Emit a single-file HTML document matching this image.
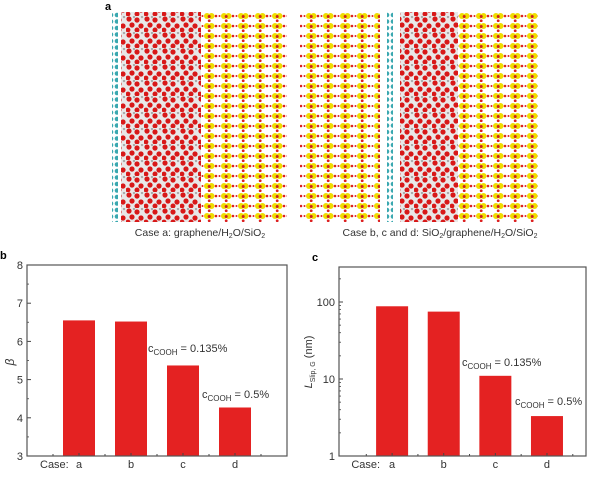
<!DOCTYPE html>
<html><head><meta charset="utf-8"><style>
body{margin:0;background:#fff;width:600px;height:472px;overflow:hidden;font-family:"Liberation Sans",sans-serif}
svg text{font-family:"Liberation Sans",sans-serif}
</style></head><body>
<svg width="600" height="472" viewBox="0 0 600 472" xmlns="http://www.w3.org/2000/svg">
<defs>
<pattern id="sio2" x="0" y="12" width="17" height="10" patternUnits="userSpaceOnUse">
<rect width="17" height="10" fill="#fff"/>
<circle cx="3" cy="4" r="3" fill="#f0dc00"/><circle cx="7.5" cy="4" r="3" fill="#f0dc00"/>
<circle cx="5.2" cy="4.5" r="1.5" fill="#cc2020"/><circle cx="5.2" cy="8.8" r="1.4" fill="#dd2020"/>
<circle cx="12" cy="4" r="1.3" fill="#dd2020"/><circle cx="15.5" cy="4" r="1" fill="#dd2020"/>
</pattern>
<pattern id="water" x="0" y="0" width="18" height="16" patternUnits="userSpaceOnUse">
<rect width="18" height="16" fill="#e8e8e8"/>
<circle cx="3" cy="3" r="2.6" fill="#d81818"/><circle cx="11" cy="4" r="2.6" fill="#d81818"/>
<circle cx="15" cy="10" r="2.6" fill="#d81818"/><circle cx="6" cy="9" r="2.6" fill="#d81818"/>
<circle cx="11" cy="14" r="2.5" fill="#d81818"/><circle cx="2" cy="14" r="2.4" fill="#d81818"/>
<circle cx="8" cy="1" r="1.2" fill="#aaa"/><circle cx="16" cy="1" r="1.2" fill="#aaa"/>
</pattern>
<pattern id="graph" x="0" y="12" width="6" height="6.5" patternUnits="userSpaceOnUse">
<rect width="6" height="6.5" fill="#fff"/>
<circle cx="3" cy="3" r="2.3" fill="#3aa8b0"/>
</pattern>
</defs>
<text x="105" y="10" font-size="11" font-weight="bold">a</text>
<rect x="112" y="12" width="6" height="210" fill="url(#graph)"/>
<rect x="121" y="12" width="80" height="210" fill="url(#water)"/>
<rect x="201" y="12" width="86" height="210" fill="url(#sio2)"/>
<rect x="300" y="12" width="80" height="210" fill="url(#sio2)"/>
<rect x="387" y="12" width="6" height="210" fill="url(#graph)"/>
<rect x="400" y="12" width="58" height="210" fill="url(#water)"/>
<rect x="458" y="12" width="80" height="210" fill="url(#sio2)"/>
<text x="200" y="236" font-size="10.5" fill="#333" text-anchor="middle">Case a: graphene/H<tspan font-size="7" dy="2">2</tspan><tspan dy="-2">O/SiO</tspan><tspan font-size="7" dy="2">2</tspan></text>
<text x="440" y="236" font-size="10.5" fill="#333" text-anchor="middle">Case b, c and d: SiO<tspan font-size="7" dy="2">2</tspan><tspan dy="-2">/graphene/H</tspan><tspan font-size="7" dy="2">2</tspan><tspan dy="-2">O/SiO</tspan><tspan font-size="7" dy="2">2</tspan></text>
<g id="chartB"></g>
<g id="chartC"></g>
</svg>
<script>
const categories=["a","b","c","d"];
const betaValues=[6.55,6.52,5.37,4.27];
const slipValues=[88,75,11,3.3];
const betaTicks=[3,4,5,6,7,8];
const slipTicks=[1,10,100];
const NS="http://www.w3.org/2000/svg";
function mk(p,t,a){const e=document.createElementNS(NS,t);for(const k in a)e.setAttribute(k,a[k]);p.appendChild(e);return e;}
function annot(g,x,y,txt){const t=mk(g,"text",{x:x,y:y,"font-size":"11",fill:"#333"});t.innerHTML='c<tspan font-size="8" dy="3">COOH</tspan><tspan dy="-3"> = '+txt+'</tspan>';}
function chart(g,L,R,T,B,yf,vals,ticks,letter,minorFn,f0,step){
  const w=R-L;
  const xf=i=>L+w*(f0+i*step);
  mk(g,"text",{x:L-27,y:T-6,"font-size":"11","font-weight":"bold"}).textContent=letter;
  categories.forEach((c,i)=>{
    const cx=xf(i);
    const y=yf(vals[i]);
    const r=mk(g,"rect",{x:cx-16,y:y,width:32,height:B-y,fill:"#e42222"});
    
    
    const t=mk(g,"text",{x:cx,y:B+12,"font-size":"11",fill:"#333","text-anchor":"middle"});t.textContent=c;
    
    
    mk(g,"line",{x1:cx,x2:cx,y1:B,y2:B-3,stroke:"#444"});
    mk(g,"line",{x1:cx+w*step/2,x2:cx+w*step/2,y1:B,y2:B-2,stroke:"#444"});
  });
  mk(g,"line",{x1:xf(0)-w*step/2,x2:xf(0)-w*step/2,y1:B,y2:B-2,stroke:"#444"});
  const cs=mk(g,"text",{x:L+w*0.05,y:B+12,"font-size":"11",fill:"#333"});cs.textContent="Case:";
  
  
  ticks.forEach(v=>{const y=yf(v);mk(g,"line",{x1:L,x2:L+4,y1:y,y2:y,stroke:"#444"});
    const t=mk(g,"text",{x:L-4,y:y+4,"font-size":"11",fill:"#333","text-anchor":"end"});t.textContent=v;
    
    });
  minorFn().forEach(v=>{const y=yf(v);mk(g,"line",{x1:L,x2:L+2,y1:y,y2:y,stroke:"#666"});});
  const f=mk(g,"rect",{x:L,y:T,width:w,height:B-T,fill:"none",stroke:"#555","stroke-width":"1.2"});
  
  
}
const gb=document.getElementById("chartB");
const yb=v=>456-(v-3)/5*191;
chart(gb,27,287,265,456,yb,betaValues,betaTicks,"b",()=>[3.5,4.5,5.5,6.5,7.5],0.2,0.2);
const yl=mk(gb,"text",{x:14,y:362,"font-size":"12","font-style":"italic",fill:"#333",transform:"rotate(-90 14 362)","text-anchor":"middle"});yl.textContent="β";


annot(gb,148,352,"0.135%");annot(gb,202,398,"0.5%");
const gc=document.getElementById("chartC");
const yc=v=>456-Math.log10(v)*77;
chart(gc,339,586,267,456,yc,slipValues,slipTicks,"c",()=>{const a=[];[1,10,100].forEach(d=>{[2,3,4,5,6,7,8,9].forEach(m=>{if(d*m<280)a.push(d*m);});});return a;},0.215,0.209);
const yl2=mk(gc,"text",{x:312,y:362,"font-size":"11",fill:"#333",transform:"rotate(-90 312 362)","text-anchor":"middle"});
yl2.innerHTML='<tspan font-style="italic">L</tspan><tspan font-size="7" dy="3">Slip, G</tspan><tspan dy="-3"> (nm)</tspan>';


annot(gc,462,366,"0.135%");annot(gc,515,405,"0.5%");
</script>
</body></html>
